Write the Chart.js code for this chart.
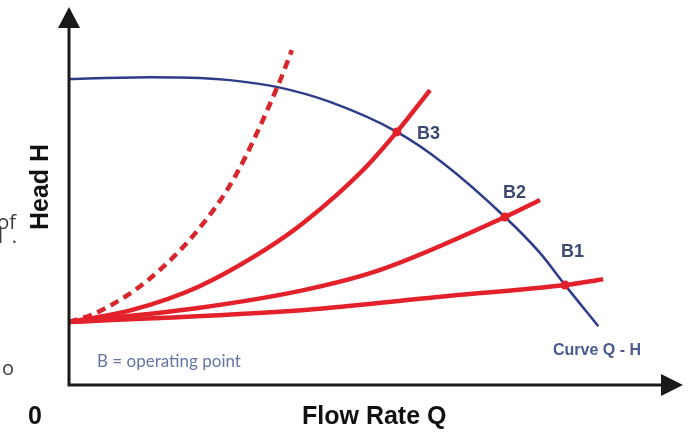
<!DOCTYPE html>
<html>
<head>
<meta charset="utf-8">
<script src="https://cdn.jsdelivr.net/npm/chart.js@4.4.1/dist/chart.umd.min.js"></script>
<style>
    html, body { margin: 0; padding: 0; background: #fff; }
    #wrap { width: 693px; height: 433px; position: relative; }
</style>
</head>
<body>
<div id="wrap"><canvas id="grafico"></canvas></div>
<script>
// pump curve Q-H (blue)
const pumpQ = [0, 13.2, 21.3, 26.2, 34.0, 42.5, 53.4, 60.9, 71.0, 76.7, 80.8, 86.2];
const pumpH = [82.7, 83.2, 83.0, 82.4, 80.5, 76.5, 68.4, 60.0, 45.4, 35.7, 27.0, 15.9];

// system curves (red)
const sys1Q = [0, 38.4, 62.1, 80.8, 87.0];
const sys1H = [17, 20.3, 24.1, 27.0, 28.6];
const sys2Q = [0, 21.0, 38.4, 50.7, 71.0, 76.7];
const sys2H = [17, 20.8, 25.7, 31.1, 45.4, 50.0];
const sys3Q = [0, 10.3, 21.0, 31.9, 38.4, 47.9, 53.4, 58.8];
const sys3H = [17, 20.3, 26.5, 36.5, 44.1, 58.1, 68.4, 79.7];
const sysDashQ = [0, 4.7, 12.9, 21.0, 27.0, 34.0, 36.3];
const sysDashH = [17, 19.7, 28.4, 41.9, 56.2, 80.8, 90.5];

// operating points
const pontosNomes = ['B1', 'B2', 'B3'];
const pontosQ = [80.8, 71.0, 53.4];
const pontosH = [27.0, 45.4, 68.4];

// textos
const tituloX = 'Flow Rate Q';
const tituloY = 'Head H';
const origemTexto = '0';
const curvaTexto = 'Curve Q - H';
const legendaTexto = 'B = operating point';

const toXY = (qs, hs) => qs.map((q, i) => ({ x: q, y: hs[i] }));

const vermelho = '#e3212a';
const azul = '#2e3d8a';
const rotuloCor = '#3c4a72';

// label offsets (px) from each operating point
const rotuloOffset = [[-4, -28], [-2, -19], [20, 7]];

const desenhoExtra = {
    id: 'desenhoExtra',
    afterDraw(chart) {
        const ctx = chart.ctx;
        const xs = chart.scales.x;
        const ys = chart.scales.y;
        const x0 = xs.getPixelForValue(0);
        const y0 = ys.getPixelForValue(0);
        const area = chart.chartArea;

        ctx.save();
        // axes
        ctx.strokeStyle = '#1a1a1a';
        ctx.fillStyle = '#1a1a1a';
        ctx.lineWidth = 3;
        ctx.beginPath();
        ctx.moveTo(x0, y0 + 1.5);
        ctx.lineTo(x0, area.top + 10);
        ctx.moveTo(x0 - 1.5, y0);
        ctx.lineTo(area.right - 14, y0);
        ctx.stroke();
        // arrow heads
        ctx.beginPath();
        ctx.moveTo(x0, area.top - 8);
        ctx.lineTo(x0 - 11, area.top + 13);
        ctx.lineTo(x0 + 11, area.top + 13);
        ctx.closePath();
        ctx.fill();
        ctx.beginPath();
        ctx.moveTo(area.right, y0);
        ctx.lineTo(area.right - 22, y0 - 11);
        ctx.lineTo(area.right - 22, y0 + 11);
        ctx.closePath();
        ctx.fill();

        // operating point labels
        ctx.fillStyle = rotuloCor;
        ctx.font = 'bold 18px "Liberation Sans", Arial, sans-serif';
        ctx.textAlign = 'left';
        ctx.textBaseline = 'alphabetic';
        pontosNomes.forEach((nome, i) => {
            const px = xs.getPixelForValue(pontosQ[i]) + rotuloOffset[i][0];
            const py = ys.getPixelForValue(pontosH[i]) + rotuloOffset[i][1];
            ctx.fillText(nome, px, py);
        });

        ctx.fillStyle = '#4a5a8e';
        ctx.font = 'bold 16px "Liberation Sans", Arial, sans-serif';
        ctx.fillText(curvaTexto, 553, 355);

        ctx.fillStyle = '#6675a6';
        ctx.font = '17px Lato, "Open Sans", sans-serif';
        ctx.fillText(legendaTexto, 97, 367);

        // axis titles
        ctx.fillStyle = '#111';
        ctx.font = 'bold 25px "Liberation Sans", Arial, sans-serif';
        ctx.textAlign = 'left';
        ctx.fillText(tituloX, 302, 424);
        ctx.fillText(origemTexto, 28, 424);
        ctx.save();
        ctx.translate(48, 187);
        ctx.rotate(-Math.PI / 2);
        ctx.textAlign = 'center';
        ctx.fillText(tituloY, 0, 0);
        ctx.restore();

        // bits of text cut at the left border
        ctx.fillStyle = '#3a3a3a';
        ctx.font = '20px "Open Sans", "Liberation Sans", sans-serif';
        ctx.textAlign = 'right';
        ctx.fillText('of', 16, 229);
        ctx.fillText('l', 3, 243);
        ctx.fillText('.', 17, 243);
        ctx.fillText('o', 14, 375);
        ctx.restore();
    }
};

const ctx = document.getElementById('grafico').getContext('2d');
const grafico = new Chart(ctx, {
    type: 'scatter',
    data: {
        datasets: [{
            label: 'pontos',
            data: toXY(pontosQ, pontosH),
            showLine: false,
            pointRadius: 4.5,
            pointBackgroundColor: vermelho,
            pointBorderWidth: 0
        }, {
            label: 'B1',
            data: toXY(sys1Q, sys1H),
            showLine: true,
            borderColor: vermelho,
            borderWidth: 4.5,
            pointRadius: 0,
            cubicInterpolationMode: 'monotone'
        }, {
            label: 'B2',
            data: toXY(sys2Q, sys2H),
            showLine: true,
            borderColor: vermelho,
            borderWidth: 4.5,
            pointRadius: 0,
            cubicInterpolationMode: 'monotone'
        }, {
            label: 'B3',
            data: toXY(sys3Q, sys3H),
            showLine: true,
            borderColor: vermelho,
            borderWidth: 4.5,
            pointRadius: 0,
            cubicInterpolationMode: 'monotone'
        }, {
            label: 'tracejada',
            data: toXY(sysDashQ, sysDashH),
            showLine: true,
            borderColor: '#d8262d',
            borderWidth: 4.5,
            borderDash: [9, 6],
            pointRadius: 0,
            cubicInterpolationMode: 'monotone'
        }, {
            label: 'Curve Q - H',
            data: toXY(pumpQ, pumpH),
            showLine: true,
            borderColor: azul,
            borderWidth: 2.5,
            pointRadius: 0,
            cubicInterpolationMode: 'monotone'
        }]
    },
    options: {
        responsive: true,
        maintainAspectRatio: false,
        animation: false,
        layout: { padding: { left: 69, right: 10, top: 15, bottom: 48 } },
        plugins: {
            legend: { display: false },
            tooltip: { enabled: false }
        },
        scales: {
            x: { type: 'linear', min: 0, max: 100, display: false },
            y: { type: 'linear', min: 0, max: 100, display: false }
        }
    },
    plugins: [desenhoExtra]
});
</script>
</body>
</html>
